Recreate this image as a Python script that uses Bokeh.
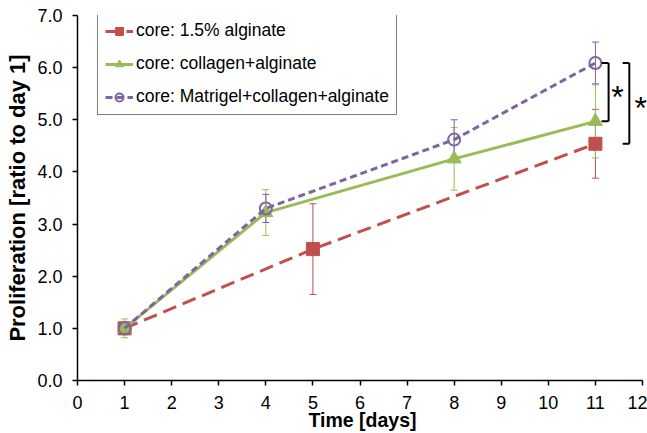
from bokeh.plotting import figure
from bokeh.models import (ColumnDataSource, Whisker, TeeHead, Legend, LegendItem,
                          FixedTicker, Label, Range1d, NumeralTickFormatter)
from bokeh.embed import file_html
from bokeh.resources import INLINE

# ---- data ----
days_alg = [1, 5, 11]
prolif_alg = [1.0, 2.52, 4.54]
err_alg = [0.12, 0.87, 0.66]

days_col = [1, 4, 8, 11]
prolif_col = [1.0, 3.22, 4.25, 4.97]
err_col = [0.18, 0.44, 0.60, 0.70]

days_mat = [1, 4, 8, 11]
prolif_mat = [1.0, 3.30, 4.62, 6.09]
err_mat = [0.12, 0.27, 0.38, 0.40]

labels = ["core: 1.5% alginate", "core: collagen+alginate",
          "core: Matrigel+collagen+alginate"]
x_ticks = list(range(0, 13))
y_ticks = [0, 1, 2, 3, 4, 5, 6, 7]

RED, GREEN, PURPLE = "#C0504D", "#9BBB59", "#8064A2"
FONT = "Liberation Sans"

# frame extends 5px beyond the last tick so the right-hand star is not clipped
X_MAX = 12
FRAME_W = 647 - 77
x_end = X_MAX * FRAME_W / (FRAME_W - 5)

p = figure(width=647, height=433, output_backend="svg", toolbar_location=None,
           x_range=Range1d(0, x_end), y_range=Range1d(0, 7),
           min_border_left=77, min_border_right=0, min_border_top=15,
           min_border_bottom=53)
p.outline_line_color = None
p.grid.visible = False
p.background_fill_color = "white"
p.border_fill_color = "white"

def src(x, y, e):
    return ColumnDataSource(dict(x=x, y=y, upper=[a + b for a, b in zip(y, e)],
                                 lower=[a - b for a, b in zip(y, e)]))

s_alg = src(days_alg, prolif_alg, err_alg)
s_col = src(days_col, prolif_col, err_col)
s_mat = src(days_mat, prolif_mat, err_mat)

for s, c in [(s_alg, RED), (s_col, GREEN), (s_mat, PURPLE)]:
    w = Whisker(base="x", upper="upper", lower="lower", source=s,
                line_color=c, line_width=1, level="underlay",
                upper_head=TeeHead(size=7, line_color=c, line_width=1),
                lower_head=TeeHead(size=7, line_color=c, line_width=1))
    p.add_layout(w)

l1 = p.line("x", "y", source=s_alg, line_color=RED, line_width=3, line_dash="14 7")
m1 = p.scatter("x", "y", source=s_alg, marker="square", size=13,
               fill_color=RED, line_color=RED)
l2 = p.line("x", "y", source=s_col, line_color=GREEN, line_width=3)
m2 = p.scatter("x", "y", source=s_col, marker="triangle", size=14,
               fill_color=GREEN, line_color=GREEN)
l3 = p.line("x", "y", source=s_mat, line_color=PURPLE, line_width=3, line_dash="7 4")
m3 = p.scatter("x", "y", source=s_mat, marker="circle", size=12,
               fill_color=None, line_color=PURPLE, line_width=2)

# significance brackets (spanning day-11 values)
top = prolif_mat[-1]
for xv, xh, bottom in [(11.28, 11.13, prolif_col[-1]), (11.72, 11.58, prolif_alg[-1])]:
    p.segment(x0=[xv, xh, xh], y0=[top, top, bottom], x1=[xv, xv, xv],
              y1=[bottom, top, bottom], line_color="black", line_width=2)
for xs, bottom in [(11.47, prolif_col[-1]), (11.96, prolif_alg[-1])]:
    p.add_layout(Label(x=xs, y=(top + bottom) / 2, text="*", text_font=FONT,
                       text_font_size="32px", text_align="center",
                       text_baseline="middle", y_offset=-5, text_color="black"))

legend = Legend(items=[LegendItem(label=labels[0], renderers=[l1, m1]),
                       LegendItem(label=labels[1], renderers=[l2, m2]),
                       LegendItem(label=labels[2], renderers=[l3, m3])],
                location=(20, 265), label_text_font=FONT, label_text_font_size="17.5px",
                label_text_color="black", glyph_width=28, glyph_height=20,
                label_height=21, label_standoff=3, spacing=12, padding=7, margin=0,
                border_line_color="black", border_line_width=1,
                background_fill_alpha=1.0)
p.add_layout(legend)

for ax in (p.xaxis[0], p.yaxis[0]):
    ax.axis_line_color = "black"
    ax.axis_line_width = 1.5
    ax.major_tick_line_color = "black"
    ax.major_tick_line_width = 1.5
    ax.major_tick_out = 5
    ax.major_tick_in = 0
    ax.minor_tick_line_color = None
    ax.major_label_text_font = FONT
    ax.major_label_text_font_size = "18px"
    ax.major_label_text_color = "black"
    ax.axis_label_text_font = FONT
    ax.axis_label_text_font_style = "bold"
    ax.axis_label_text_color = "black"

p.xaxis.bounds = (0, X_MAX)
p.xaxis.ticker = FixedTicker(ticks=x_ticks)
p.yaxis.ticker = FixedTicker(ticks=y_ticks)
p.yaxis.formatter = NumeralTickFormatter(format="0.0")
p.xaxis.axis_label = "Time [days]"
p.yaxis.axis_label = "Proliferation [ratio to day 1]"
p.xaxis.axis_label_text_font_size = "19.5px"
p.yaxis.axis_label_text_font_size = "22px"
p.xaxis.major_label_standoff = 10
p.yaxis.major_label_standoff = 10
p.xaxis.axis_label_standoff = -3
p.yaxis.axis_label_standoff = 4

open("out.html", "w").write(file_html(p, INLINE))
